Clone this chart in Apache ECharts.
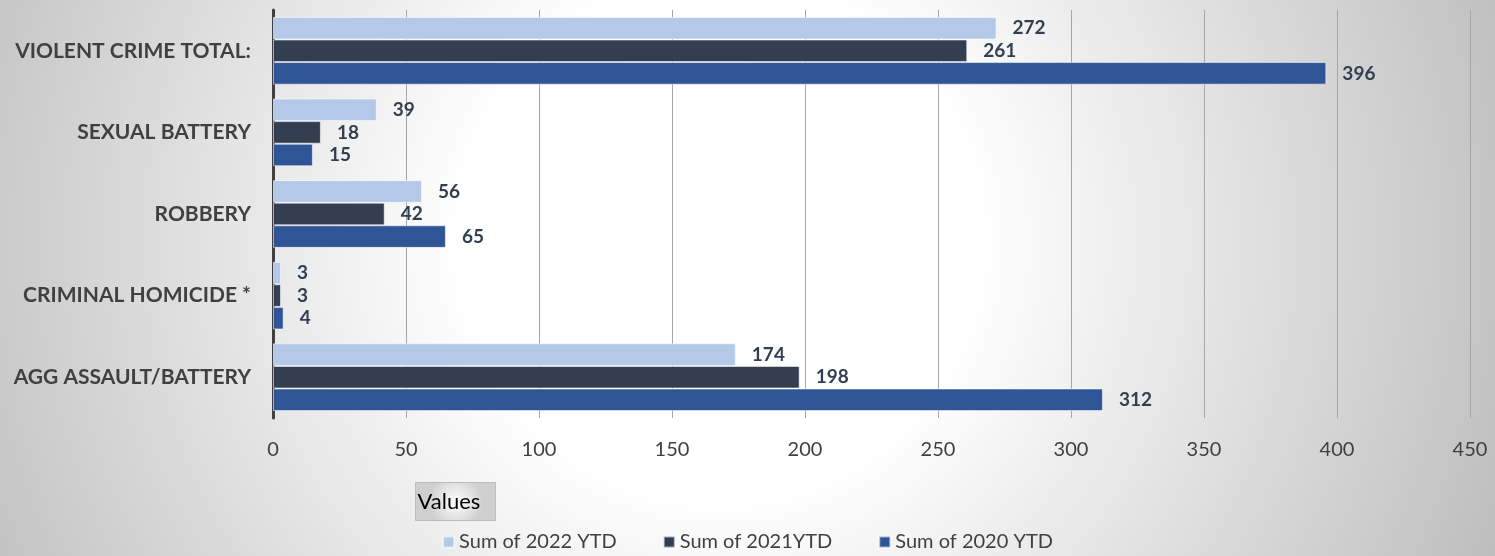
<!DOCTYPE html>
<html>
<head>
<meta charset="utf-8">
<title>Violent crime YTD</title>
<script src="https://cdn.jsdelivr.net/npm/echarts@6/dist/echarts.min.js"></script>
<style>
  html, body { margin: 0; padding: 0; }
  #chart { width: 1495px; height: 556px; }
</style>
</head>
<body>
<div id="chart"></div>
<script>
// categories top to bottom
const categories = ['VIOLENT CRIME TOTAL:', 'SEXUAL BATTERY', 'ROBBERY', 'CRIMINAL HOMICIDE *', 'AGG ASSAULT/BATTERY']
const ytd2022 = [272, 39, 56, 3, 174]
const ytd2021 = [261, 18, 42, 3, 198]
const ytd2020 = [396, 15, 65, 4, 312]
const xTicks = [0, 50, 100, 150, 200, 250, 300, 350, 400, 450]

const font = 'Lato'

function barSeries(name, data, color) {
  return {
    name: name,
    type: 'bar',
    data: data,
    barGap: '0%',
    barCategoryGap: '17%',
    itemStyle: {
      color: color,
      borderColor: 'rgba(255,255,255,0.55)',
      borderWidth: 1
    },
    label: {
      show: true,
      position: 'right',
      distance: 16,
      color: '#333f50',
      fontWeight: 'bold',
      fontSize: 19,
      fontFamily: font
    },
    animation: false
  }
}

const chart = echarts.init(document.getElementById('chart'))
chart.setOption({
  backgroundColor: {
    type: 'radial',
    x: 720, y: 240, r: 850,
    global: true,
    colorStops: [
      { offset: 0, color: '#ffffff' },
      { offset: 0.3, color: '#ffffff' },
      { offset: 1, color: '#bcbcbc' }
    ]
  },
  textStyle: { fontFamily: font },
  grid: {
    left: 273,
    right: 25,
    top: 10,
    bottom: 138
  },
  legend: {
    data: ['Sum of 2022 YTD', 'Sum of 2021YTD', 'Sum of 2020 YTD'],
    top: 527,
    left: 'center',
    itemWidth: 11,
    itemHeight: 11,
    itemGap: 46,
    icon: 'rect',
    textStyle: { color: '#404040', fontSize: 20, fontFamily: font }
  },
  xAxis: {
    type: 'value',
    min: 0,
    max: xTicks[xTicks.length - 1],
    interval: 50,
    axisLine: { show: false },
    axisTick: { show: false },
    axisLabel: { color: '#404040', fontSize: 20, margin: 22, fontFamily: font },
    splitLine: { lineStyle: { color: '#a6a6a6', width: 1 } }
  },
  yAxis: {
    type: 'category',
    data: categories,
    inverse: true,
    axisLine: { lineStyle: { color: '#404040', width: 3 } },
    axisTick: { show: false },
    axisLabel: { color: '#404040', fontSize: 21, fontWeight: 'bold', margin: 22, fontFamily: font }
  },
  graphic: [{
    type: 'group',
    left: 415,
    top: 482,
    children: [{
      type: 'rect',
      shape: { x: 0, y: 0, width: 80, height: 38 },
      style: {
        fill: {
          type: 'radial', x: 0.5, y: 0.5, r: 0.7,
          colorStops: [{ offset: 0, color: '#ffffff' }, { offset: 1, color: '#cfcfcf' }]
        },
        stroke: '#bdbdbd',
        lineWidth: 1
      }
    }, {
      type: 'text',
      x: 2,
      y: 8,
      style: { text: 'Values', fill: '#000000', fontSize: 22, fontFamily: font }
    }]
  }],
  series: [
    barSeries('Sum of 2022 YTD', ytd2022, '#b4c9e7'),
    barSeries('Sum of 2021YTD', ytd2021, '#333f50'),
    barSeries('Sum of 2020 YTD', ytd2020, '#2f5597')
  ]
})
</script>
</body>
</html>
